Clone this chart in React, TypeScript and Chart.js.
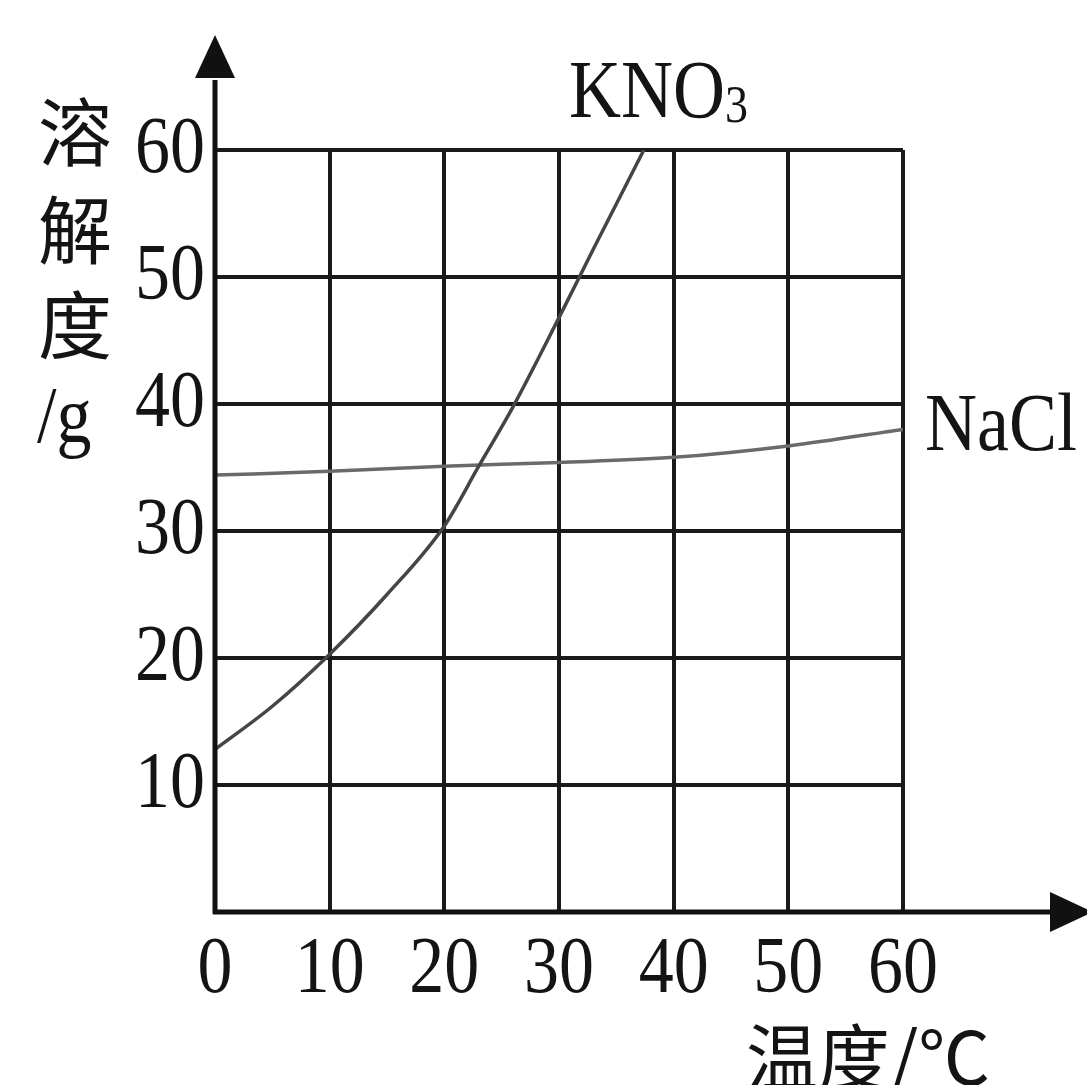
import React, { useEffect, useRef } from "react";
import { Chart, registerables } from "chart.js";

Chart.register(...registerables);

// ---- data ----
const kno3Temps = [0, 5, 10, 15, 20, 23, 26, 30, 33, 37.4];
const kno3Values = [12.8, 16.2, 20.3, 25.0, 30.4, 35.1, 39.8, 46.8, 52.2, 60];

const naclTemps = [0, 10, 20, 30, 40, 50, 60];
const naclValues = [34.4, 34.7, 35.1, 35.4, 35.8, 36.7, 38.0];

const xTickLabels = ["0", "10", "20", "30", "40", "50", "60"];
const yTickLabels = ["10", "20", "30", "40", "50", "60"];

const yTitleChars = ["溶", "解", "度"];
const yTitleUnit = "/g";
const xTitle = "温度/℃";
const kno3Label = "KNO";
const kno3Sub = "3";
const naclLabel = "NaCl";

const SERIF = "'Liberation Serif', 'Times New Roman', serif";
const CJK = "'Noto Sans CJK SC', sans-serif";
const STRETCH = 1.15;

function stretchText(
  ctx: CanvasRenderingContext2D,
  text: string,
  x: number,
  y: number,
  font: string,
  align: CanvasTextAlign,
  stretch = STRETCH
) {
  ctx.save();
  ctx.font = font;
  ctx.textAlign = align;
  ctx.textBaseline = "alphabetic";
  ctx.translate(x, y);
  ctx.scale(1, stretch);
  ctx.fillText(text, 0, 0);
  ctx.restore();
}

const decorPlugin = {
  id: "decor",
  afterDraw(chart: any) {
    const ctx: CanvasRenderingContext2D = chart.ctx;
    const xs = chart.scales.x;
    const ys = chart.scales.y;
    const ca = chart.chartArea;
    const x0 = xs.getPixelForValue(0);
    const y0 = ys.getPixelForValue(0);

    ctx.save();
    ctx.strokeStyle = "#111";
    ctx.fillStyle = "#111";
    ctx.lineWidth = 5;
    ctx.lineCap = "butt";

    // y axis with arrow
    const yTip = ca.top - 115;
    const yBase = ca.top - 72;
    ctx.beginPath();
    ctx.moveTo(x0, y0 + 2);
    ctx.lineTo(x0, yBase + 2);
    ctx.stroke();
    ctx.beginPath();
    ctx.moveTo(x0, yTip);
    ctx.lineTo(x0 - 20, yBase);
    ctx.lineTo(x0 + 20, yBase);
    ctx.closePath();
    ctx.fill();

    // x axis with arrow
    const xBase = ca.right + 147;
    const xTip = ca.right + 190;
    ctx.beginPath();
    ctx.moveTo(x0 - 2, y0);
    ctx.lineTo(xBase + 2, y0);
    ctx.stroke();
    ctx.beginPath();
    ctx.moveTo(xTip, y0);
    ctx.lineTo(xBase, y0 - 20);
    ctx.lineTo(xBase, y0 + 20);
    ctx.closePath();
    ctx.fill();

    // tick labels
    ctx.fillStyle = "#141414";
    const tickFont = `70px ${SERIF}`;
    xTickLabels.forEach((t) => {
      const px = xs.getPixelForValue(Number(t));
      stretchText(ctx, t, px, y0 + 80, tickFont, "center");
    });
    yTickLabels.forEach((t) => {
      const py = ys.getPixelForValue(Number(t));
      stretchText(ctx, t, x0 - 10, py + 22, tickFont, "right");
    });

    // y title (vertical stack)
    ctx.save();
    ctx.font = `74px ${CJK}`;
    ctx.textAlign = "center";
    ctx.textBaseline = "middle";
    const tx = x0 - 140;
    const centers = [ca.top - 18, ca.top + 80, ca.top + 175];
    yTitleChars.forEach((c, i) => ctx.fillText(c, tx, centers[i]));
    ctx.restore();
    stretchText(ctx, yTitleUnit, x0 - 178, ca.top + 292, `70px ${SERIF}`, "left");

    // x title
    ctx.save();
    ctx.font = `72px ${CJK}`;
    ctx.textAlign = "left";
    ctx.textBaseline = "alphabetic";
    ctx.fillText(xTitle, ca.right - 157, y0 + 172);
    ctx.restore();

    // series labels
    const kx = ca.left + 354;
    const ky = ca.top - 33;
    stretchText(ctx, kno3Label, kx, ky, `72px ${SERIF}`, "left");
    ctx.save();
    ctx.font = `72px ${SERIF}`;
    const kw = ctx.measureText(kno3Label).width;
    ctx.restore();
    stretchText(ctx, kno3Sub, kx + kw, ky + 5, `46px ${SERIF}`, "left");

    stretchText(ctx, naclLabel, ca.right + 22, ys.getPixelForValue(36.4), `72px ${SERIF}`, "left");

    ctx.restore();
  },
};

export default function App() {
  const ref = useRef<HTMLCanvasElement | null>(null);

  useEffect(() => {
    document.body.style.margin = "0";
    const canvas = ref.current;
    if (!canvas) return;
    const chart = new Chart(canvas, {
      type: "line",
      data: {
        datasets: [
          {
            label: "KNO3",
            data: kno3Temps.map((t, i) => ({ x: t, y: kno3Values[i] })),
            borderColor: "#454545",
            borderWidth: 3.5,
            pointRadius: 0,
            cubicInterpolationMode: "monotone",
            fill: false,
          },
          {
            label: "NaCl",
            data: naclTemps.map((t, i) => ({ x: t, y: naclValues[i] })),
            borderColor: "#6a6a6a",
            borderWidth: 3.5,
            pointRadius: 0,
            cubicInterpolationMode: "monotone",
            fill: false,
          },
        ],
      },
      options: {
        animation: false,
        responsive: false,
        devicePixelRatio: 1,
        layout: { padding: { left: 215, right: 184, top: 150, bottom: 173 } },
        plugins: { legend: { display: false }, tooltip: { enabled: false } },
        scales: {
          x: {
            type: "linear",
            min: 0,
            max: 60,
            ticks: { display: false, stepSize: 10 },
            grid: { color: "#1a1a1a", lineWidth: 4, drawTicks: false },
            border: { display: false },
          },
          y: {
            type: "linear",
            min: 0,
            max: 60,
            ticks: { display: false, stepSize: 10 },
            grid: { color: "#1a1a1a", lineWidth: 4, drawTicks: false },
            border: { display: false },
          },
        },
      },
      plugins: [decorPlugin],
    } as any);
    return () => chart.destroy();
  }, []);

  return (
    <div style={{ width: 1087, height: 1085, background: "#fff" }}>
      <canvas ref={ref} width={1087} height={1085} style={{ display: "block" }} />
    </div>
  );
}
